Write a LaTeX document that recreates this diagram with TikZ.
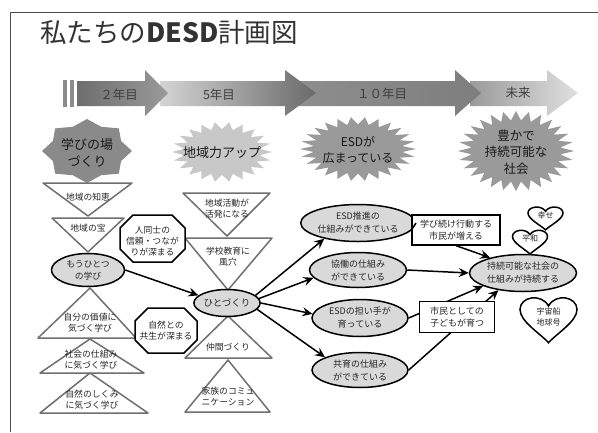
\documentclass[tikz,border=0pt]{standalone}
\usepackage{fontspec}
\setmainfont{Noto Sans CJK JP}
\usetikzlibrary{shapes.geometric,arrows.meta}

\definecolor{ellfill}{HTML}{D9D9D9}
\definecolor{trigray}{HTML}{707070}
\definecolor{aAl}{HTML}{6E6E6E}\definecolor{aAr}{HTML}{9A9A9A}
\definecolor{aBl}{HTML}{D4D4D4}\definecolor{aBr}{HTML}{6A6A6A}
\definecolor{aCl}{HTML}{8E8E8E}\definecolor{aCr}{HTML}{7E7E7E}
\definecolor{aDl}{HTML}{9A9A9A}\definecolor{aDr}{HTML}{E0E0E0}
\definecolor{starA}{HTML}{8A8A8A}
\definecolor{starB}{HTML}{C8C8C8}
\definecolor{starC}{HTML}{9A9A9A}

\newcommand\fsz[2]{\fontsize{#1}{#2}\selectfont}
\newcommand\tlarrow[5]{\shade[left color=#4, right color=#5] (#1,81) -- (#2,81) -- (#2,70) -- (#3,93) -- (#2,116) -- (#2,106) -- (#1,106) -- cycle;}
\newcommand\burst[8]{\fill[#8] ({#1+#3},#2) \foreach \i [evaluate=\i as \f using {1-(1-#6)*mod(\i,2)}] in {1,...,#7} { -- ({#1+#3*\f*cos(\i*180/#5)},{#2+#4*\f*sin(\i*180/#5)}) } -- cycle;}
\newcommand\octa[5]{\draw[line width=1.5pt, fill=white] ({#1-#3/2+#5},{#2-#4/2}) -- ({#1+#3/2-#5},{#2-#4/2}) -- ({#1+#3/2},{#2-#4/2+#5}) -- ({#1+#3/2},{#2+#4/2-#5}) -- ({#1+#3/2-#5},{#2+#4/2}) -- ({#1-#3/2+#5},{#2+#4/2}) -- ({#1-#3/2},{#2+#4/2-#5}) -- ({#1-#3/2},{#2-#4/2+#5}) -- cycle;}
\newcommand\heartshape[4]{\draw[line width=1.5pt, fill=white, shift={(#1,#2)}, xscale=#3, yscale=#4] (0,1) .. controls (-0.3,0.6) and (-1,0.1) .. (-1,-0.4) .. controls (-1,-0.95) and (-0.25,-1.1) .. (0,-0.55) .. controls (0.25,-1.1) and (1,-0.95) .. (1,-0.4) .. controls (1,0.1) and (0.3,0.6) .. (0,1) -- cycle;}

\begin{document}
\begin{tikzpicture}[x=1pt,y=-1pt,
  ell/.style={ellipse, draw=black, line width=1.5pt, fill=ellfill, align=center, inner sep=0pt, text=black!85, font=\fsz{9}{13}},
  tri/.style={draw=trigray, line width=1.5pt, fill=white, line join=round},
  lbl/.style={align=center, inner sep=0pt, text=black!85, font=\fsz{8.8}{11}},
  boxn/.style={rectangle, draw=black, line width=1.3pt, fill=white, align=center, inner sep=0pt, text=black!85, font=\fsz{9}{12}},
  arr/.style={line width=1.5pt, -{Stealth[length=10pt,width=9pt,inset=3.5pt]}},
  conn/.style={line width=1.5pt},
  tl/.style={font=\fsz{12.5}{14}, text=black!75, inner sep=0pt},
  bl/.style={align=center, inner sep=0pt, text=black!90}
]
\useasboundingbox (0,0) rectangle (598,432);
\fill[white] (0,0) rectangle (598,432);
\draw[line width=1pt, black!70] (10,432) -- (10,12) -- (598,12);

% title
\node[anchor=west, inner sep=0pt, font=\fsz{26.5}{30}, text=black!80] (title) at (40,32) {私たちの\textbf{DESD}計画図};

% timeline
\fill[black!45] (63,80) rectangle (67,107);
\fill[black!45] (70,80) rectangle (74,107);
\tlarrow{470}{547}{578}{aDl}{aDr}
\tlarrow{295}{455}{481}{aCl}{aCr}
\tlarrow{160}{285}{316}{aBl}{aBr}
\tlarrow{77}{145}{168}{aAl}{aAr}
\node[tl] (y2) at (119,95) {２年目};
\node[tl] (y5) at (219,95) {5年目};
\node[tl] (y10) at (382,94) {１０年目};
\node[tl] (fut) at (518,93) {未来};

% bursts
\burst{87}{151}{45}{32}{8}{0.82}{15}{fill=starA}
\node[bl, font=\fsz{13}{17}] (manabi) at (87,153) {学びの場\\づくり};
\burst{222}{152}{50}{30}{22}{0.76}{43}{fill=starB}
\node[bl, font=\fsz{13}{17}] (chiiki) at (222,153) {地域力アップ};
\burst{358}{149}{58}{32}{26}{0.77}{51}{fill=starC}
\node[bl, font=\fsz{12}{16}] (esdh) at (358,150) {ESDが\\広まっている};
\burst{516}{151}{58}{40}{28}{0.77}{55}{fill=starC}
\node[bl, font=\fsz{12.5}{16.5}] (yutaka) at (516,152) {豊かで\\持続可能な\\社会};

% left column triangles
\draw[tri] (43,183) -- (132,183) -- (88,216) -- cycle;
\draw[tri] (52,218) -- (124,218) -- (88,252) -- cycle;
\draw[tri] (90,288) -- (136,338) -- (38,338) -- cycle;
\draw[tri] (90,339) -- (144,373) -- (40,373) -- cycle;
\draw[tri] (90,373) -- (148,413) -- (40,413) -- cycle;
\node[lbl] (l1) at (88,197) {地域の知恵};
\node[lbl] (l2) at (88,228) {地域の宝};
\node[lbl] (l3) at (90,323) {自分の価値に\\気づく学び};
\node[lbl] (l4) at (91,360) {社会の仕組み\\に気づく学び};
\node[lbl] (l5) at (92,399.5) {自然のしくみ\\に気づく学び};

% middle column triangles
\draw[tri] (183,193) -- (270,193) -- (227,236) -- cycle;
\draw[tri] (185,238) -- (272,238) -- (228,290) -- cycle;
\draw[tri] (228,316) -- (272,358) -- (185,358) -- cycle;
\draw[tri] (228,360) -- (270,412) -- (185,412) -- cycle;
\node[lbl] (m1) at (227,208.5) {地域活動が\\活発になる};
\node[lbl] (m2) at (228,257) {学校教育に\\風穴};
\node[lbl] (m3) at (228,347) {仲間づくり};
\node[lbl] (m4) at (228,397) {家族のコミュ\\ニケーション};

% octagons
\octa{152.5}{238.5}{65}{47}{13}
\node[lbl] (oct1) at (152.5,241) {人同士の\\信頼・つなが\\りが深まる};
\octa{166}{330.5}{62}{45}{13}
\node[lbl] (oct2) at (166,331) {自然との\\共生が深まる};

% ellipses
\node[ell, minimum width=73, minimum height=33, font=\fsz{8.8}{12}] (mou) at (88,270) {もうひとつ\\の学び};
\node[ell, minimum width=62, minimum height=27, font=\fsz{9.5}{12}] (hito) at (227,303) {ひとづくり};
\node[ell, minimum width=97, minimum height=37] (esd1) at (358,223) {ESD推進の\\仕組みができている};
\node[ell, minimum width=97, minimum height=35] (kyodo) at (358,270) {協働の仕組み\\ができている};
\node[ell, minimum width=96, minimum height=37] (ninai) at (360,318) {ESDの担い手が\\育っている};
\node[ell, minimum width=96, minimum height=35] (kyoiku) at (360,370) {共育の仕組み\\ができている};
\node[ell, minimum width=107, minimum height=37] (fin) at (523,273) {持続可能な社会の\\仕組みが持続する};
\node[boxn, minimum width=88, minimum height=30] (box1) at (456,230) {学び続け行動する\\市民が増える};

% connectors
\draw[arr] (mou.east) -- (hito.165);
\draw[arr] (hito.15) -- (esd1.205);
\draw[arr] (hito.8) -- (kyodo.190);
\draw[arr] (hito.0) -- (ninai.175);
\draw[arr] (hito.-12) -- (kyoiku.160);
\draw[conn] (esd1.east) -- (box1.west);
\draw[arr] (box1.south) -- (fin.155);
\draw[arr] (kyodo.east) -- (fin.180);
\draw[arr] (ninai.east) -- (fin.198);
\draw[arr] (kyoiku.east) -- (fin.215);
\node[boxn, minimum width=75, minimum height=31] (box2) at (457,317) {市民としての\\子どもが育つ};

% hearts
\heartshape{545.5}{217.8}{17.5}{12}
\node[lbl, font=\fsz{8}{10}] (kofuku) at (545.5,215) {幸せ};
\heartshape{530}{241.5}{17.5}{12.5}
\node[lbl, font=\fsz{8}{10}] (heiwa) at (530,238) {平和};
\heartshape{548.5}{319}{28.5}{23.7}
\node[lbl, font=\fsz{8}{10.5}] (uchu) at (548.5,317) {宇宙船\\地球号};
\end{tikzpicture}
\end{document}
